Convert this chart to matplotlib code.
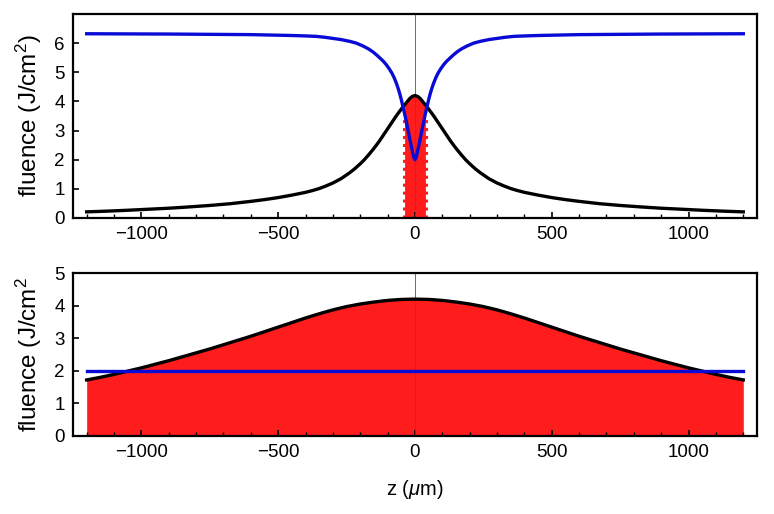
import matplotlib
matplotlib.use('Agg')
import matplotlib.pyplot as plt
import numpy as np

# top panel: fluence along z (black) and threshold (blue)
z_top = [-1200, -1125, -1050, -975, -900, -825, -750, -675, -600, -550, -500, -450, -400, -375,
         -350, -325, -300, -270, -239, -220, -200, -185, -170, -155, -141, -130, -120, -110,
         -100, -90, -80, -70, -60, -52, -45, -38, -30, -20, -10, 0,
         10, 20, 30, 38, 45, 52, 60, 70, 80, 90, 100, 110, 120, 130, 141, 155, 170, 185, 200,
         220, 239, 270, 300, 325, 350, 375, 400, 450, 500, 550, 600, 675, 750, 825, 900, 975,
         1050, 1125, 1200]
fluence_top = [0.21, 0.235, 0.265, 0.30, 0.335, 0.38, 0.43, 0.49, 0.57, 0.63, 0.70, 0.785, 0.88, 0.94,
               1.01, 1.10, 1.20, 1.35, 1.55, 1.69, 1.86, 2.00, 2.16, 2.33, 2.50, 2.64, 2.78, 2.92,
               3.06, 3.20, 3.34, 3.48, 3.61, 3.71, 3.80, 3.88, 3.97, 4.09, 4.17, 4.20,
               4.17, 4.09, 3.97, 3.88, 3.80, 3.71, 3.61, 3.48, 3.34, 3.20, 3.06, 2.92, 2.78, 2.64,
               2.50, 2.33, 2.16, 2.00, 1.86, 1.69, 1.55, 1.35, 1.20, 1.10, 1.01, 0.94, 0.88, 0.785,
               0.70, 0.63, 0.57, 0.49, 0.43, 0.38, 0.335, 0.30, 0.265, 0.235, 0.21]

z_thr = [-1200, -1050, -900, -750, -600, -525, -450, -400, -361, -330, -300, -270, -239, -215,
         -190, -170, -154, -140, -125, -115, -105, -95, -85, -76, -68, -61, -55, -50, -44, -40,
         -35, -30, -25, -19, -13, -8, -4, 0,
         4, 8, 13, 19, 25, 30, 35, 40, 44, 50, 55, 61, 68, 76, 85, 95, 105, 115, 125, 140, 154,
         170, 190, 215, 239, 270, 300, 330, 361, 400, 450, 525, 600, 750, 900, 1050, 1200]
thr_top = [6.32, 6.315, 6.31, 6.30, 6.29, 6.275, 6.26, 6.245, 6.23, 6.20, 6.16, 6.12, 6.06, 6.00,
           5.90, 5.80, 5.70, 5.59, 5.46, 5.37, 5.26, 5.13, 4.98, 4.81, 4.62, 4.43, 4.24, 4.06, 3.82,
           3.66, 3.45, 3.23, 3.00, 2.72, 2.45, 2.22, 2.07, 2.00,
           2.07, 2.22, 2.45, 2.72, 3.00, 3.23, 3.45, 3.66, 3.82, 4.06, 4.24, 4.43, 4.62, 4.81,
           4.98, 5.13, 5.26, 5.37, 5.46, 5.59, 5.70, 5.80, 5.90, 6.00, 6.06, 6.12, 6.16, 6.20,
           6.23, 6.245, 6.26, 6.275, 6.29, 6.30, 6.31, 6.315, 6.32]

z_edge = [-41, 41]
edge_height = 3.45

# bottom panel
z_bot = [-1200, -1150, -1100, -1050, -1000, -950, -900, -850, -800, -750, -700, -650, -600,
         -550, -500, -450, -400, -350, -300, -250, -200, -150, -100, -50, 0,
         50, 100, 150, 200, 250, 300, 350, 400, 450, 500, 550, 600, 650, 700, 750, 800, 850,
         900, 950, 1000, 1050, 1100, 1150, 1200]
fluence_bot = [1.72, 1.80, 1.89, 1.99, 2.09, 2.20, 2.31, 2.43, 2.55, 2.67, 2.80, 2.93, 3.06,
               3.20, 3.34, 3.48, 3.62, 3.75, 3.87, 3.97, 4.05, 4.11, 4.16, 4.19, 4.20,
               4.19, 4.16, 4.11, 4.05, 3.97, 3.87, 3.75, 3.62, 3.48, 3.34, 3.20, 3.06, 2.93,
               2.80, 2.67, 2.55, 2.43, 2.31, 2.20, 2.09, 1.99, 1.89, 1.80, 1.72]
thr_bot = 2.0

red = '#ff1c1c'
blue = '#0a0ad6'

plt.rcParams['font.family'] = ['Liberation Sans', 'DejaVu Sans']
plt.rcParams['mathtext.fontset'] = 'custom'
plt.rcParams['mathtext.rm'] = 'Liberation Sans'
plt.rcParams['mathtext.it'] = 'Liberation Sans:italic'

fig = plt.figure(figsize=(7.74, 5.14), dpi=100)
ax1 = fig.add_axes([0.0943, 0.5759, 0.8837, 0.397])
ax2 = fig.add_axes([0.0943, 0.1518, 0.8837, 0.317])

zt = np.array(z_top)
ft = np.array(fluence_top)
ax1.fill_between(zt, 0, ft, where=(np.abs(zt) <= 38), color=red, lw=0, zorder=1)
for ze in z_edge:
    ax1.plot([ze, ze], [0, edge_height], color=red, lw=2.2, ls=(0, (1.0, 1.6)), zorder=1)
ax1.axvline(0, color='#555555', lw=0.6, zorder=2)
ax1.plot(z_top, fluence_top, color='black', lw=2.4, zorder=3)
ax1.plot(z_thr, thr_top, color=blue, lw=2.4, zorder=4)
ax1.set_ylim(0, 7)
ax1.set_yticks(range(0, 7))
ax1.set_ylabel('fluence (J/cm$^2$)', fontsize=17.5, labelpad=7)

ax2.fill_between(z_bot, 0, fluence_bot, color=red, lw=0, zorder=1)
ax2.axvline(0, color='#555555', lw=0.6, zorder=2)
ax2.plot(z_bot, fluence_bot, color='black', lw=2.4, zorder=3)
ax2.plot([z_bot[0], z_bot[-1]], [thr_bot, thr_bot], color=blue, lw=2.4, zorder=4)
ax2.set_ylim(0, 5)
ax2.set_yticks(range(0, 6))
ax2.set_ylabel('fluence (J/cm$^2$', fontsize=17.5, labelpad=7)
ax2.set_xlabel('z ($\\mu$m)', fontsize=14.5, labelpad=12)

for ax in (ax1, ax2):
    ax.set_xlim(-1250, 1250)
    ax.set_xticks([-1000, -500, 0, 500, 1000])
    ax.set_xticklabels(['\u22121000', '\u2212500', '0', '500', '1000'])
    ax.set_xticks(np.arange(-1200, 1201, 100), minor=True)
    ax.tick_params(axis='both', which='major', direction='in', length=4, width=1.2,
                   labelsize=13.5, top=False, right=False, pad=6)
    ax.tick_params(axis='x', which='minor', direction='in', length=3, width=1.0,
                   top=False)
    for s in ax.spines.values():
        s.set_linewidth(1.6)

fig.savefig('out.png', dpi=100)
